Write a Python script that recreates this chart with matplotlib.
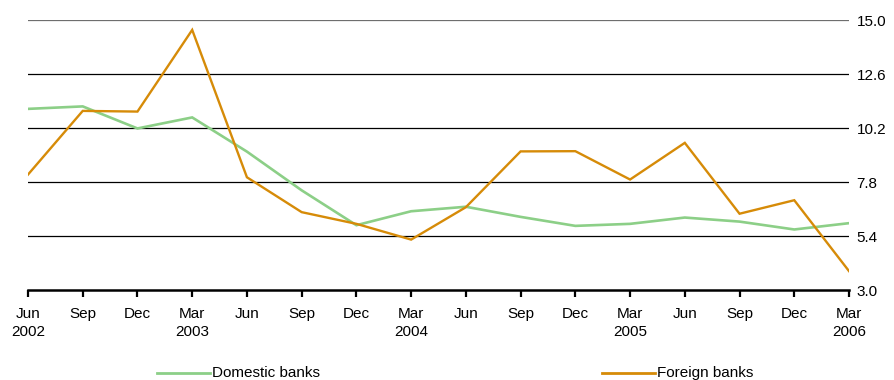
import matplotlib
matplotlib.use("Agg")
import matplotlib.pyplot as plt
from matplotlib.lines import Line2D

plt.rcParams['font.family'] = ['Liberation Sans', 'DejaVu Sans']

quarters = ["Jun\n2002", "Sep", "Dec", "Mar\n2003", "Jun", "Sep", "Dec", "Mar\n2004",
            "Jun", "Sep", "Dec", "Mar\n2005", "Jun", "Sep", "Dec", "Mar\n2006"]
domestic = [11.05, 11.16, 10.18, 10.67, 9.15, 7.43, 5.88, 6.50,
            6.70, 6.25, 5.85, 5.94, 6.22, 6.04, 5.69, 5.97]
foreign = [8.13, 10.96, 10.93, 14.56, 8.01, 6.46, 5.94, 5.24,
           6.68, 9.16, 9.17, 7.91, 9.54, 6.39, 6.99, 3.84]
y_ticks = [3.0, 5.4, 7.8, 10.2, 12.6, 15.0]

green = "#8CCF87"
orange = "#D68B08"

W, H = 894, 380
fig = plt.figure(figsize=(W / 100, H / 100), dpi=100)
ax = fig.add_axes([28 / W, (H - 290) / H, (849 - 28) / W, (290 - 20) / H])

x = list(range(len(quarters)))
ax.plot(x, domestic, color=green, lw=1.9, solid_joinstyle='miter', zorder=3)
ax.plot(x, foreign, color=orange, lw=1.7, solid_joinstyle='miter', zorder=4)

ax.set_xlim(0, len(quarters) - 1)
ax.set_ylim(y_ticks[0], y_ticks[-1])

# horizontal reference lines
for v in y_ticks[1:]:
    ax.axhline(v, color="#6e6e6e" if v == y_ticks[-1] else "black", lw=0.9, zorder=1)

for s in ["top", "left", "right"]:
    ax.spines[s].set_visible(False)
ax.spines["bottom"].set_linewidth(1.8)
ax.spines["bottom"].set_color("black")

ax.set_xticks(x)
ax.set_xticklabels(quarters, fontsize=11, linespacing=1.4, va="top")
ax.tick_params(axis="x", direction="out", length=5, width=1.6, color="black", pad=7)

ax.yaxis.tick_right()
ax.set_yticks(y_ticks)
ax.set_yticklabels([f"{v:.1f}" for v in y_ticks], fontsize=11)
ax.tick_params(axis="y", direction="out", length=0, width=0.9, color="black", pad=5.5)

# legend below the plot
leg_y = (H - 373) / H
for x0, x1, tx, col, lab in [(157, 210, 212, green, "Domestic banks"),
                             (602, 655, 657, orange, "Foreign banks")]:
    fig.add_artist(Line2D([x0 / W, x1 / W], [leg_y, leg_y], color=col, lw=2.0,
                          transform=fig.transFigure))
    fig.text(tx / W, leg_y, lab, fontsize=11, va="center", ha="left")

fig.savefig("out.png", dpi=100)
